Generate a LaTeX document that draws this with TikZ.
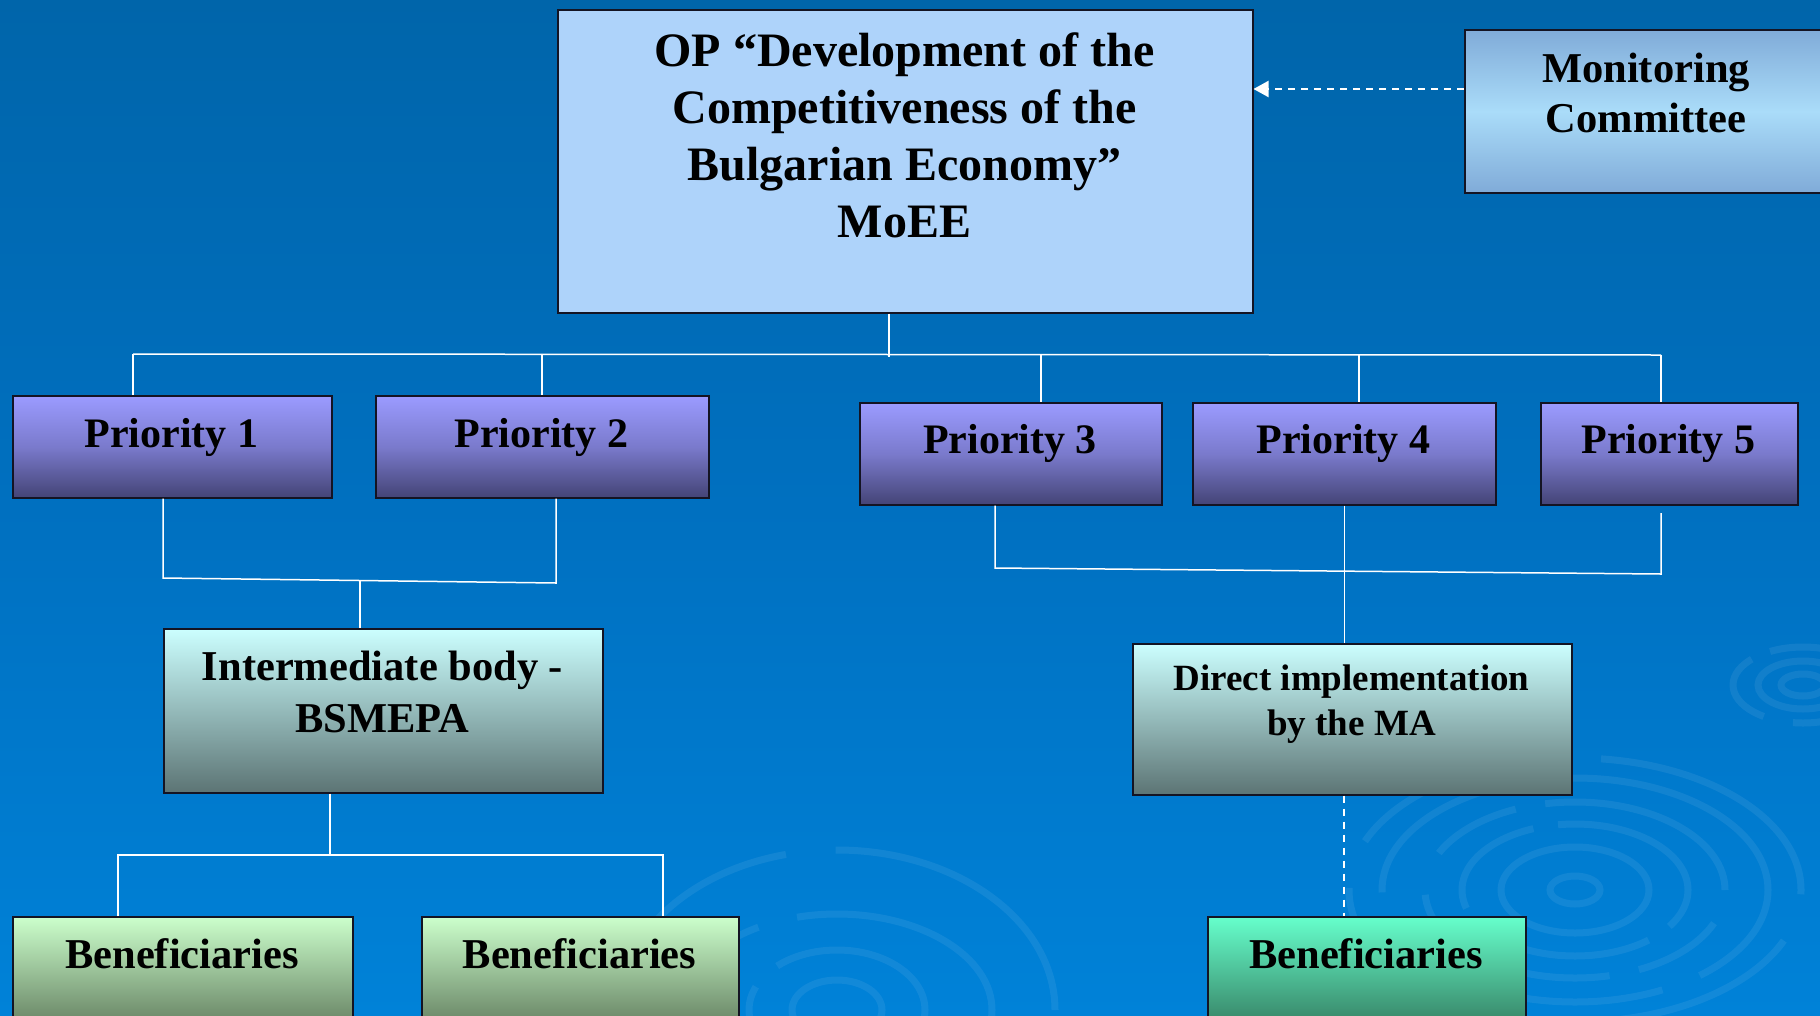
\documentclass[tikz,border=0pt]{standalone}
\usepackage{fontspec}
\setmainfont{Liberation Serif}
\usetikzlibrary{arrows.meta}
\definecolor{bgtop}{RGB}{0,101,170}
\definecolor{bgmid}{RGB}{0,112,192}
\definecolor{bgbot}{RGB}{0,130,216}
\definecolor{opblue}{RGB}{174,211,250}
\definecolor{mcedge}{RGB}{128,171,216}
\definecolor{mcmid}{RGB}{170,220,249}
\definecolor{prtop}{RGB}{155,155,255}
\definecolor{prmid}{RGB}{122,122,204}
\definecolor{prbot}{RGB}{68,68,118}
\definecolor{ibtop}{RGB}{204,255,255}
\definecolor{ibbot}{RGB}{92,116,116}
\definecolor{bftop}{RGB}{204,255,204}
\definecolor{bfbot}{RGB}{88,112,84}
\definecolor{bgtop3}{RGB}{102,255,204}
\definecolor{bgbot3}{RGB}{48,112,86}
\definecolor{edge}{RGB}{20,20,35}
\begin{document}
\begin{tikzpicture}[x=1pt,y=-1pt,
  box/.style={draw=edge, line width=1.5pt, rectangle, inner sep=0pt, anchor=north west},
  prbox/.style={box, top color=prtop, bottom color=prbot, middle color=prmid, minimum height=102pt},
  ibbox/.style={box, top color=ibtop, bottom color=ibbot},
  bfbox/.style={box, top color=bftop, bottom color=bfbot, minimum height=125pt},
  txt/.style={inner sep=0pt, anchor=base},
  wire/.style={draw=white, line width=1.5pt},
  dwire/.style={draw=white, line width=2pt, dash pattern=on 7pt off 6pt},
  ring/.style={draw=white, draw opacity=0.07, line width=7pt}]
\useasboundingbox (0,0) rectangle (1820,1015);
\clip (0,0) rectangle (1820,1015);
% background
\shade[top color=bgtop, bottom color=bgbot, middle color=bgmid] (0,0) rectangle (1820,1015);
% ripples
\draw[ring] (1575,890) ellipse [x radius=25pt, y radius=14pt];
\draw[ring] (1575,890) ellipse [x radius=74pt, y radius=43pt];
\draw[ring, dash pattern=on 160pt off 25pt on 120pt off 40pt] (1575,890) ellipse [x radius=113pt, y radius=66pt];
\draw[ring, dash pattern=on 220pt off 30pt on 90pt off 45pt] (1575,890) ellipse [x radius=150pt, y radius=88pt];
\draw[ring, dash pattern=on 300pt off 40pt on 150pt off 30pt] (1575,890) ellipse [x radius=193pt, y radius=112pt];
\draw[ring, dash pattern=on 260pt off 60pt on 200pt off 50pt] (1575,890) ellipse [x radius=226pt, y radius=132pt];
\draw[ring] (1803,685) ellipse [x radius=22pt, y radius=11pt];
\draw[ring] (1803,685) ellipse [x radius=45pt, y radius=24pt];
\draw[ring, dash pattern=on 120pt off 20pt on 80pt off 30pt] (1803,685) ellipse [x radius=70pt, y radius=38pt];
\draw[ring] (837,1010) ellipse [x radius=45pt, y radius=30pt];
\draw[ring, dash pattern=on 180pt off 30pt on 120pt off 40pt] (837,1010) ellipse [x radius=88pt, y radius=60pt];
\draw[ring, dash pattern=on 240pt off 40pt on 160pt off 50pt] (837,1010) ellipse [x radius=155pt, y radius=96pt];
\draw[ring, dash pattern=on 300pt off 50pt on 200pt off 60pt] (837,1010) ellipse [x radius=218pt, y radius=160pt];

% boxes
\node[box, fill=opblue, minimum width=695pt, minimum height=303pt] (op) at (557,9) {};
\node[box, top color=mcedge, bottom color=mcedge, middle color=mcmid, minimum width=380pt, minimum height=163pt] (mc) at (1464,29) {};
\node[prbox, minimum width=319pt] (p1) at (12,395) {};
\node[prbox, minimum width=333pt] (p2) at (375,395) {};
\node[prbox, minimum width=302pt] (p3) at (859,402) {};
\node[prbox, minimum width=303pt] (p4) at (1192,402) {};
\node[prbox, minimum width=257pt] (p5) at (1540,402) {};
\node[ibbox, minimum width=439pt, minimum height=164pt] (ib) at (163,628) {};
\node[ibbox, minimum width=439pt, minimum height=151pt] (di) at (1132,643) {};
\node[bfbox, minimum width=340pt] (b1) at (12,916) {};
\node[bfbox, minimum width=317pt] (b2) at (421,916) {};
\node[box, top color=bgtop3, bottom color=bgbot3, minimum height=125pt, minimum width=318pt] (b3) at (1207,916) {};

% texts
\node[txt, font=\bfseries\fontsize{48}{57}\selectfont] (opT) at (904.5,66)
  {\begin{tabular}[t]{@{}c@{}}OP “Development of the\\Competitiveness of the\\Bulgarian Economy”\\MoEE\end{tabular}};
\node[txt, font=\bfseries\fontsize{42.5}{50}\selectfont] (mcT) at (1646,82)
  {\begin{tabular}[t]{@{}c@{}}Monitoring\\Committee\end{tabular}};
\node[txt, font=\bfseries\fontsize{42}{50}\selectfont] (p1T) at (171.5,447) {Priority 1};
\node[txt, font=\bfseries\fontsize{42}{50}\selectfont] (p2T) at (541.5,447) {Priority 2};
\node[txt, font=\bfseries\fontsize{42}{50}\selectfont] (p3T) at (1010,453) {Priority 3};
\node[txt, font=\bfseries\fontsize{42}{50}\selectfont] (p4T) at (1343.5,453) {Priority 4};
\node[txt, font=\bfseries\fontsize{42}{50}\selectfont] (p5T) at (1668.5,453) {Priority 5};
\node[txt, font=\bfseries\fontsize{42.5}{52}\selectfont] (ibT) at (382.5,680)
  {\begin{tabular}[t]{@{}c@{}}Intermediate body -\\BSMEPA\end{tabular}};
\node[txt, font=\bfseries\fontsize{37}{45}\selectfont] (diT) at (1351.5,690)
  {\begin{tabular}[t]{@{}c@{}}Direct implementation\\by the MA\end{tabular}};
\node[txt, font=\bfseries\fontsize{42.5}{50}\selectfont] (b1T) at (182,968) {Beneficiaries};
\node[txt, font=\bfseries\fontsize{42.5}{50}\selectfont] (b2T) at (579.5,968) {Beneficiaries};
\node[txt, font=\bfseries\fontsize{42.5}{50}\selectfont] (b3T) at (1366,968) {Beneficiaries};

% connectors: top tree
\coordinate (opdrop) at (889,357);
\coordinate (busL) at (133,354);
\coordinate (busR) at (1661,355);
\coordinate (d2) at (542,354);
\coordinate (d3) at (1041,355);
\coordinate (d4) at (1359,355);
\draw[wire] (opdrop |- op.south) -- (opdrop);
\draw[wire] (busL) -- (busR);
\draw[wire] (busL) -- (busL |- p1.north);
\draw[wire] (d2) -- (d2 |- p2.north);
\draw[wire] (d3) -- (d3 |- p3.north);
\draw[wire] (d4) -- (d4 |- p4.north);
\draw[wire] (busR) -- (busR |- p5.north);

% priorities 1-2 to intermediate body
\coordinate (l1) at (163,578);
\coordinate (l2) at (556,583);
\coordinate (ibin) at (360,581);
\draw[wire] (l1 |- p1.south) -- (l1) -- (l2) -- (l2 |- p2.south);
\draw[wire] (ibin) -- (ibin |- ib.north);

% intermediate body to beneficiaries
\coordinate (ibd) at (330,855);
\coordinate (bl) at (118,855);
\coordinate (br) at (663,855);
\draw[wire] (ibd |- ib.south) -- (ibd);
\draw[wire] (bl |- b1.north) -- (bl) -- (br) -- (br |- b2.north);

% priorities 3-5 to direct implementation
\coordinate (r3) at (995,568);
\coordinate (r5) at (1661,574);
\coordinate (r5top) at (1661,513);
\draw[wire] (r3 |- p3.south) -- (r3) -- (r5) -- (r5top);
\draw[wire] (p4.south) -- (p4.south |- di.north);
\draw[dwire] (p4.south |- di.south) -- (p4.south |- b3.north);

% monitoring committee arrow
\coordinate (arrY) at (0,89);
\draw[dwire, -{Triangle[length=15pt,width=16pt]}] (mc.west |- arrY) -- (op.east |- arrY);
\end{tikzpicture}
\end{document}
